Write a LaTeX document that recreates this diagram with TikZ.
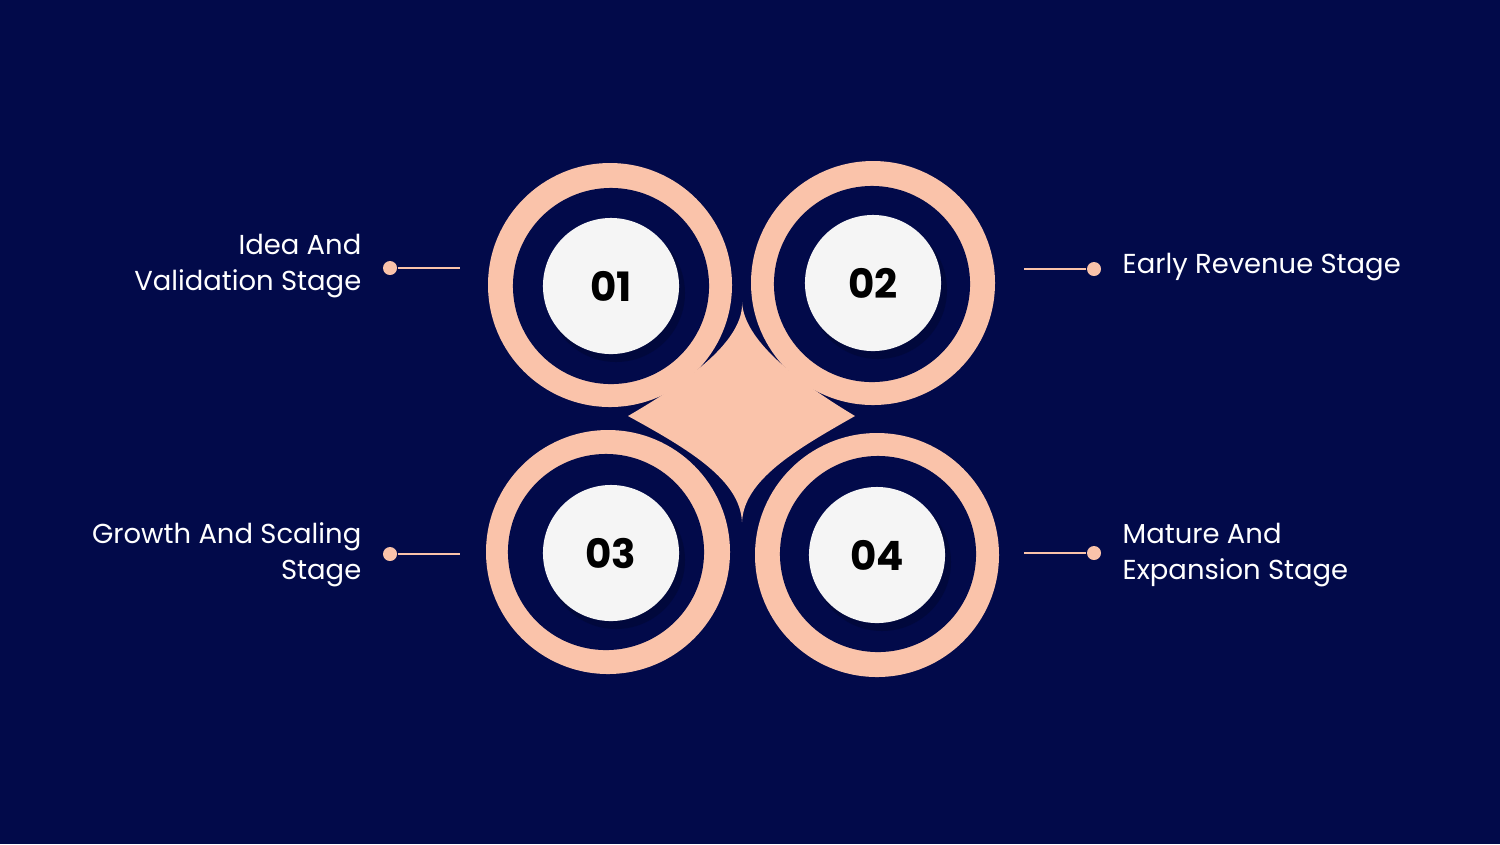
\documentclass[tikz,border=0pt]{standalone}
\usepackage{fontspec}
\setmainfont{Poppins}
\begin{document}
\begin{tikzpicture}[x=0.01cm,y=-0.01cm,
  ring/.style={circle,fill=bg,minimum size=1.96cm,inner sep=0},
  num/.style={circle,fill=wh,minimum size=1.36cm,inner sep=0,font=\fontsize{11.5pt}{12pt}\selectfont\bfseries,text=black},
  lab/.style={font=\fontsize{7.8pt}{10.2pt}\selectfont,text=white,inner sep=0},
  dot/.style={circle,fill=pk,minimum size=0.14cm,inner sep=0},
  conn/.style={draw=pk,line width=0.6pt}]
\definecolor{bg}{RGB}{2,10,74}
\definecolor{pk}{RGB}{250,195,170}
\definecolor{wh}{RGB}{245,245,245}
\definecolor{sh}{RGB}{1,5,40}
\fill[bg] (0,0) rectangle (1500,844);
\useasboundingbox (0,0) rectangle (1500,844);
% peach circles
\fill[pk] (610,285) circle (122);
\fill[pk] (873,283) circle (122);
\fill[pk] (608,552) circle (122);
\fill[pk] (877,555) circle (122);
% central shape
\fill[pk] (742,302) .. controls (744,340) and (690,380) .. (628,416)
  .. controls (690,450) and (740,480) .. (742,522)
  .. controls (744,480) and (795,450) .. (855,416)
  .. controls (795,380) and (744,340) .. (742,302) -- cycle;
% dark rings
\node[ring] (r1) at (611,286) {};
\node[ring] (r2) at (872,284) {};
\node[ring] (r3) at (606,552) {};
\node[ring] (r4) at (878,554) {};
% shadows
\fill[sh,opacity=0.4] (616,293) circle (69);
\fill[sh,opacity=0.4] (878,290) circle (69);
\fill[sh,opacity=0.4] (616,560) circle (69);
\fill[sh,opacity=0.4] (882,562) circle (69);
\node[num] (n1) at (611,286) {01};
\node[num] (n2) at (873,283) {02};
\node[num] (n3) at (611,553) {03};
\node[num] (n4) at (877,555) {04};
% connectors
\node[dot] (d1) at (390,268) {};
\coordinate (e1) at (460,268);
\draw[conn] (d1) -- (e1);
\node[dot] (d3) at (390,554) {};
\coordinate (e3) at (460,554);
\draw[conn] (d3) -- (e3);
\node[dot] (d2) at (1094,269) {};
\coordinate (e2) at (1024,269);
\draw[conn] (e2) -- (d2);
\node[dot] (d4) at (1094,553) {};
\coordinate (e4) at (1024,553);
\draw[conn] (e4) -- (d4);
% labels
\node[lab,anchor=east,align=right] (t1) at (362,266) {Idea And\\Validation Stage};
\node[lab,anchor=east,align=right] (t3) at (362,555) {Growth And Scaling\\Stage};
\node[lab,anchor=west,align=left] (t2) at (1122,267) {Early Revenue Stage};
\node[lab,anchor=west,align=left] (t4) at (1122,555) {Mature And\\Expansion Stage};
\end{tikzpicture}
\end{document}
